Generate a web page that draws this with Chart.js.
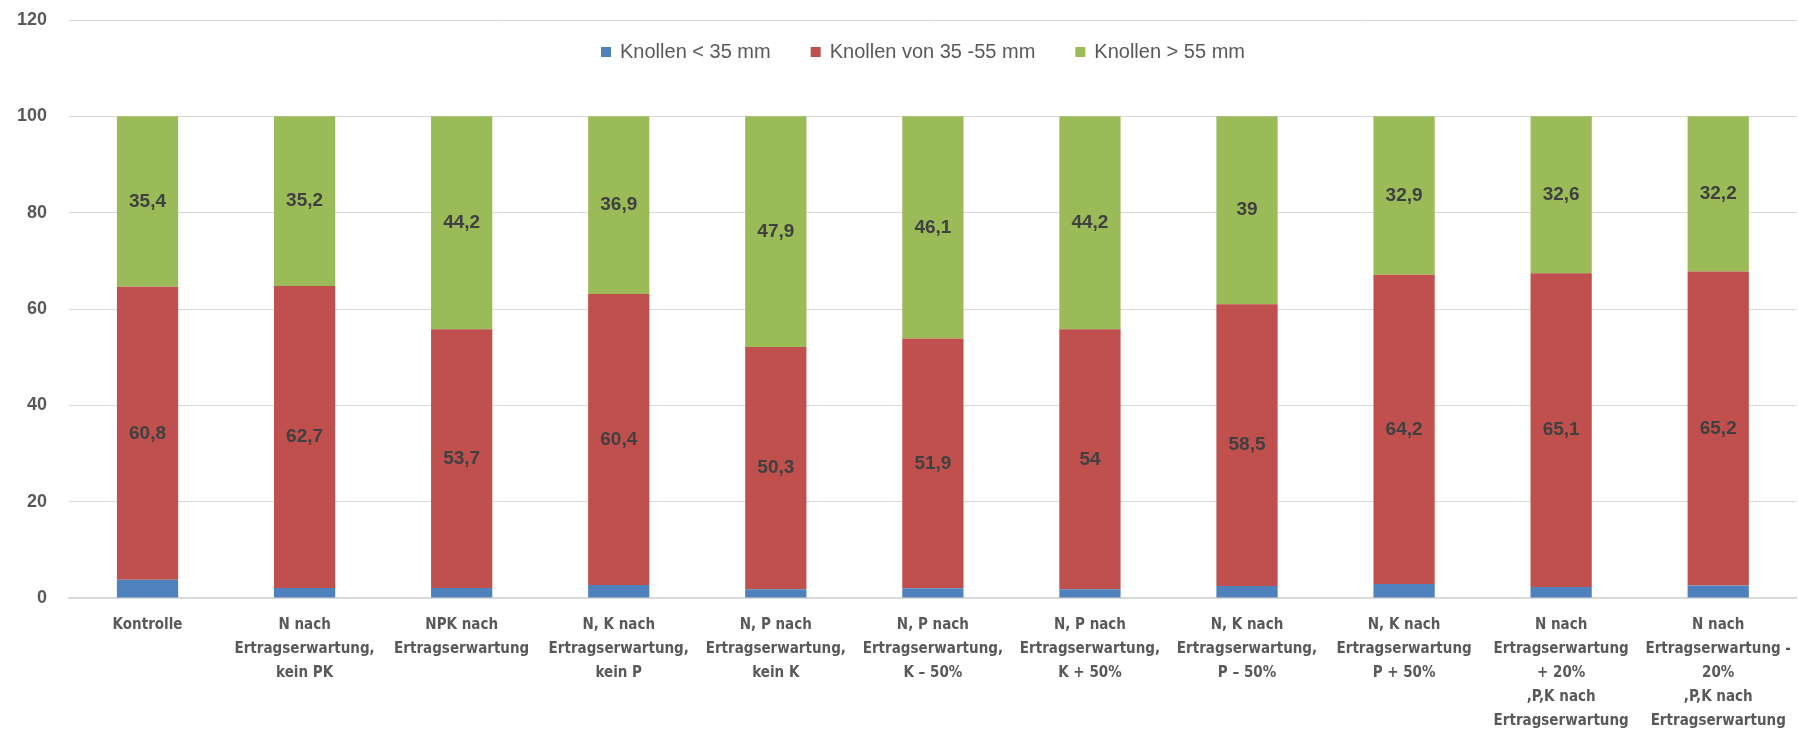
<!DOCTYPE html>
<html>
<head>
<meta charset="utf-8">
<script src="https://cdn.jsdelivr.net/npm/chart.js@4/dist/chart.umd.min.js"></script>
<style>
  html, body { margin: 0; padding: 0; background: #fff; overflow: hidden; }
  #wrap { position: relative; width: 1806px; height: 730px; }
</style>
</head>
<body>
<div id="wrap"><canvas id="barChart"></canvas></div>
<script>
const categories = [
  "Kontrolle",
  ["N nach", "Ertragserwartung,", "kein PK"],
  ["NPK nach", "Ertragserwartung"],
  ["N, K nach", "Ertragserwartung,", "kein P"],
  ["N, P nach", "Ertragserwartung,", "kein K"],
  ["N, P nach", "Ertragserwartung,", "K \u2013 50%"],
  ["N, P nach", "Ertragserwartung,", "K + 50%"],
  ["N, K nach", "Ertragserwartung,", "P \u2013 50%"],
  ["N, K nach", "Ertragserwartung", "P + 50%"],
  ["N nach", "Ertragserwartung", "+ 20%", ",P,K nach", "Ertragserwartung"],
  ["N nach", "Ertragserwartung -", "20%", ",P,K nach", "Ertragserwartung"]
];
const seriesNames = ["Knollen < 35 mm", "Knollen von 35 -55 mm", "Knollen > 55 mm"];
const small = [3.8, 2.1, 2.1, 2.7, 1.8, 2.0, 1.8, 2.5, 2.9, 2.3, 2.6];
const medium = [60.8, 62.7, 53.7, 60.4, 50.3, 51.9, 54, 58.5, 64.2, 65.1, 65.2];
const large = [35.4, 35.2, 44.2, 36.9, 47.9, 46.1, 44.2, 39, 32.9, 32.6, 32.2];
const yTicks = [0, 20, 40, 60, 80, 100, 120];

const narrow = "'Liberation Sans Narrow', 'DejaVu Sans Condensed', sans-serif";
const sans = "'Liberation Sans', Arial, sans-serif";

// labels in the middle of the red and green segments
const valueLabels = {
  id: "valueLabels",
  afterDatasetsDraw(chart) {
    const ctx = chart.ctx;
    ctx.save();
    ctx.font = "bold 19px " + sans;
    ctx.fillStyle = "#404040";
    ctx.textAlign = "center";
    ctx.textBaseline = "middle";
    [1, 2].forEach(function (di) {
      const meta = chart.getDatasetMeta(di);
      meta.data.forEach(function (bar, i) {
        const p = bar.getProps(["x", "y", "base"], true);
        const v = chart.data.datasets[di].data[i];
        ctx.fillText(String(v).replace(".", ","), p.x, (p.y + p.base) / 2);
      });
    });
    ctx.restore();
  }
};

// legend drawn inside the plot, between the 100 and 120 lines
const innerLegend = {
  id: "innerLegend",
  afterDraw(chart) {
    const ctx = chart.ctx;
    const sets = chart.data.datasets;
    const box = 10, gapText = 9, gapItem = 40;
    ctx.save();
    ctx.font = "20px " + sans;
    ctx.textBaseline = "middle";
    let total = 0;
    const widths = sets.map(function (ds) { return ctx.measureText(ds.label).width; });
    widths.forEach(function (w) { total += box + gapText + w; });
    total += gapItem * (sets.length - 1);
    let x = 923 - total / 2;
    const y = 52;
    sets.forEach(function (ds, i) {
      ctx.fillStyle = ds.backgroundColor;
      ctx.fillRect(x, y - box / 2, box, box);
      x += box + gapText;
      ctx.fillStyle = "#595959";
      ctx.fillText(ds.label, x, y);
      x += widths[i] + gapItem;
    });
    ctx.restore();
  }
};

var ctx = document.getElementById("barChart").getContext("2d");
var chart = new Chart(ctx, {
  type: "bar",
  data: {
    labels: categories,
    datasets: [
      { label: seriesNames[0], data: small, backgroundColor: "#4F81BD" },
      { label: seriesNames[1], data: medium, backgroundColor: "#C0504D" },
      { label: seriesNames[2], data: large, backgroundColor: "#9BBB59" }
    ]
  },
  options: {
    responsive: true,
    maintainAspectRatio: false,
    animation: false,
    datasets: {
      bar: { categoryPercentage: 1, barPercentage: 0.39 }
    },
    layout: { padding: { top: 20, right: 1, left: 0, bottom: 0 } },
    plugins: {
      tooltip: { enabled: false },
      legend: { display: false }
    },
    scales: {
      x: {
        stacked: true,
        grid: { display: false, drawTicks: false },
        border: { color: "#D9D9D9", width: 2 },
        ticks: {
          maxRotation: 0,
          autoSkip: false,
          padding: 15,
          color: "#595959",
          font: { family: narrow, size: 15, weight: "bold", lineHeight: 1.6 }
        },
        afterFit(scale) { scale.height = 132; }
      },
      y: {
        stacked: true,
        min: 0,
        max: 120,
        afterBuildTicks(scale) { scale.ticks = yTicks.map(v => ({ value: v })); },
        grid: { color: "#D9D9D9", drawTicks: false },
        border: { display: false },
        ticks: {
          padding: 22,
          color: "#595959",
          font: { family: sans, size: 18, weight: "bold" }
        },
        afterFit(scale) {
          scale.width = 69;
          scale.paddingTop = 0;
          scale.paddingBottom = 0;
        }
      }
    }
  },
  plugins: [valueLabels, innerLegend]
});
</script>
</body>
</html>
